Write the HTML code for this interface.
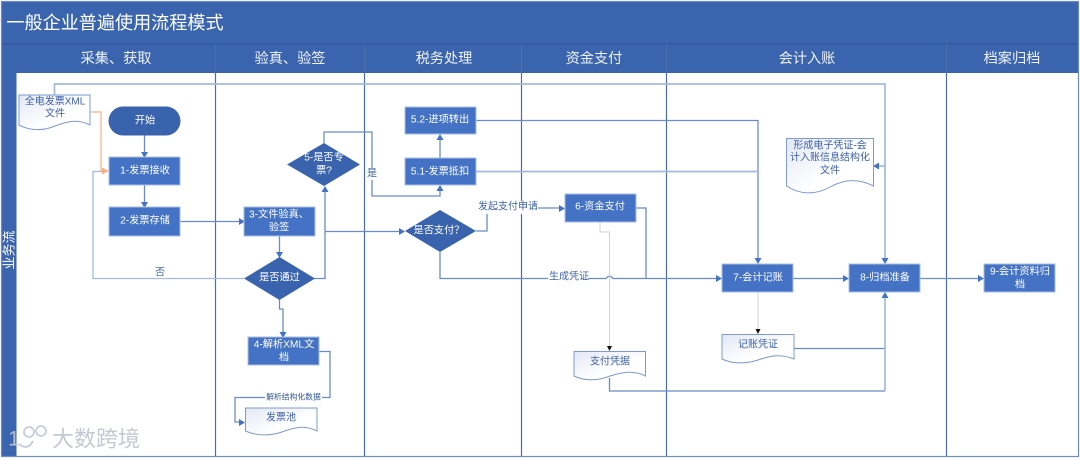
<!DOCTYPE html>
<html><head><meta charset="utf-8">
<style>
html,body{margin:0;padding:0;background:#fff}
svg{display:block;filter:blur(.25px)}
text{font-family:"Liberation Sans","Noto Sans CJK SC",sans-serif;text-anchor:middle;dominant-baseline:central}
.w{fill:#fff;font-size:10.2px}
.b{fill:#3f62a8;font-size:10px}
.h{fill:#fff;font-size:14.2px;fill-opacity:.92}
.box{fill:#4472c4;stroke:#a9bde2;stroke-width:1}
.dia{fill:#3a63ad}
.c{fill:none;stroke:#6a8bc8;stroke-width:1.3}
.l{fill:none;stroke:#a4b9de;stroke-width:1.7}
.g{fill:none;stroke:#d2d2d2;stroke-width:1}
.o{fill:none;stroke:#f4b183;stroke-width:1.2}
.a{fill:#4472c4}
.doc{fill:url(#gr);stroke:#7d9bd0;stroke-width:1}
.lane{stroke:#4a6dae;stroke-width:1.2}
</style></head>
<body>
<svg width="1080" height="459" viewBox="0 0 1080 459" xmlns="http://www.w3.org/2000/svg">
<defs><linearGradient id="gr" x1="0" y1="0" x2="1" y2="1"><stop offset="0" stop-color="#e3e8f5"/><stop offset=".6" stop-color="#fff"/></linearGradient></defs>
<rect width="1080" height="459" fill="#fff"/>
<rect x="1.5" y="1.5" width="1077" height="42.5" fill="#3a64ae"/>
<rect x="1.5" y="44" width="1077" height="29" fill="#3a64ae"/>
<rect x="1.5" y="73" width="15" height="383" fill="#3a64ae"/>
<line x1="2" y1="44" x2="1078" y2="44" stroke="#2f5597" stroke-width="1"/>
<rect x="1.5" y="1.5" width="1077" height="455" fill="none" stroke="#6d8cc4" stroke-width="1.2"/>
<g class="lane">
<line x1="215.5" y1="44" x2="215.5" y2="456"/><line x1="364.5" y1="44" x2="364.5" y2="456"/><line x1="521.5" y1="44" x2="521.5" y2="456"/><line x1="666.5" y1="44" x2="666.5" y2="456"/><line x1="946.5" y1="44" x2="946.5" y2="456"/>
</g>
<text x="115" y="23" style="font-size:18.1px" fill="#fff">一般企业普遍使用流程模式</text>
<text class="h" x="116" y="59">采集、获取</text>
<text class="h" x="290" y="59">验真、验签</text>
<text class="h" x="444" y="59">税务处理</text>
<text class="h" x="594" y="59">资金支付</text>
<text class="h" x="807" y="59">会计入账</text>
<text class="h" x="1012" y="59">档案归档</text>
<text class="w" transform="translate(9,250) rotate(-90)" style="font-size:13px">业务流</text>

<!-- connectors -->
<path class="l" d="M54.5 95V84H885V259"/>
<path class="l" d="M885 166H878"/>
<path class="o" d="M91 112H101V171H104"/>
<path class="l" d="M244 278.500H93V171.500H104" style="stroke-width:1.3"/>
<path class="c" d="M144.500 135V152M144.500 185V202M180 221.500H239M279.500 236V252M476 120.500H758V259M885 391H609.500V378M794 348.500H885M793 278.500H844M920 278.500H979M476 231H487V208H560M635 208H646V278"/>
<path class="l" d="M476 171.500H758M885 297V391" />
<path class="c" d="M314 278.500H325V191M325 231.500H400M324 143V132H372V196H440V190M440 158V139"/>
<path class="c" d="M440 252V278.500H606M606 278.500Q609.500 274 613 278.500H717"/>
<path class="c" d="M279.500 299V309H283V332M319 351.500H330V397.500H235V422H240"/>
<path class="g" d="M600 222V232H609.500V346M758 292V329"/>
<!-- arrows -->
<g class="a">
<path d="M141 152h7l-3.500 6zM141 202h7l-3.500 6zM239 218l6 3.500-6 3.500zM276 252h7l-3.500 6zM279.500 332h7l-3.500 6z" />
<path d="M321.500 192l3.500-6 3.500 6zM436.500 191l3.500-6 3.500 6zM436.500 140l3.500-6 3.500 6z"/>
<path d="M399 228l6 3.500-6 3.500zM559 205l6 3.500-6 3.500zM716 275l6 3.500-6 3.500zM843 275l6 3.500-6 3.500zM978 275l6 3.500-6 3.500zM239 419l6 3.500-6 3.500z"/>
<path d="M754.500 258h7l-3.500 6zM881.500 258h7l-3.500 6zM881.500 298l3.500-6 3.500 6zM879 162.500v7l-6-3.500z"/>
</g>
<path d="M102 167.500l7 3.500-7 3.500z" fill="#f4b183"/>
<path d="M607 346h5l-2.500 5zM755.500 329h5l-2.500 5z" fill="#111"/>

<!-- nodes -->
<rect x="108.500" y="106.500" width="72" height="29" rx="14.500" class="dia"/>
<text class="w" x="145" y="121">开始</text>
<rect class="box" x="109" y="157" width="71" height="28"/><text class="w" x="145" y="171">1-发票接收</text>
<rect class="box" x="109" y="207" width="71" height="29"/><text class="w" x="145" y="221">2-发票存储</text>
<rect class="box" x="244" y="207" width="71" height="29"/><text class="w" x="279" y="215">3-文件验真、</text><text class="w" x="279" y="228">验签</text>
<path class="dia" d="M279.500 257L315 278.500L279.500 300L244 278.500Z"/><text class="w" x="279.500" y="278">是否通过</text>
<rect class="box" x="248" y="337" width="71" height="28"/><text class="w" x="284" y="345">4-解析XML文</text><text class="w" x="284" y="358">档</text>
<path class="dia" d="M324 143L360 164.500L324 186L287 164.500Z"/><text class="w" x="324" y="158">5-是否专</text><text class="w" x="324" y="171">票?</text>
<rect class="box" x="405" y="107" width="71" height="27"/><text class="w" x="440" y="120">5.2-进项转出</text>
<rect class="box" x="405" y="158" width="71" height="27"/><text class="w" x="440" y="172">5.1-发票抵扣</text>
<path class="dia" d="M440 210L476 231L440 252L405 231Z"/><text class="w" x="439" y="231">是否支付？</text>
<rect class="box" x="565" y="194" width="71" height="28"/><text class="w" x="600" y="207">6-资金支付</text>
<rect class="box" x="722" y="264" width="71" height="28"/><text class="w" x="758" y="278">7-会计记账</text>
<rect class="box" x="849" y="264" width="71" height="28"/><text class="w" x="885" y="278">8-归档准备</text>
<rect class="box" x="984" y="264" width="71" height="28"/><text class="w" x="1020" y="272">9-会计资料归</text><text class="w" x="1020" y="285">档</text>

<!-- documents -->
<path class="doc" d="M19 95H90V125C78 119 68 121 55 126C43 131 30 131 19 125Z"/>
<text class="b" x="55" y="102">全电发票XML</text><text class="b" x="55" y="114">文件</text>
<path class="doc" d="M245.500 408H317V431C305 425 295 427 282 432C270 436 256 436 245.500 431Z"/>
<text class="b" x="281" y="418">发票池</text>
<path class="doc" d="M574 351.500H645.500V376C633 370 623 372 610 376C598 381 584 381 574 376Z"/>
<text class="b" x="610" y="362">支付凭据</text>
<path class="doc" d="M722 334.500H794V359C782 354 772 355 758 360C746 364 732 364 722 359Z"/>
<text class="b" x="758" y="345">记账凭证</text>
<path class="doc" d="M786.500 138.500H873.500V186C860 179 846 178 830 187C816 195 800 195 786.500 186Z"/>
<text class="b" x="830" y="146">形成电子凭证-会</text><text class="b" x="830" y="158">计入账信息结构化</text><text class="b" x="830" y="171">文件</text>

<!-- labels -->
<rect x="154" y="268" width="12" height="10" fill="#fff"/><text class="b" x="160" y="273">否</text>
<rect x="366" y="168" width="12" height="12" fill="#fff"/><text class="b" x="372" y="174">是</text>
<rect x="478" y="201" width="60" height="13" fill="#fff"/><text class="b" x="508" y="207">发起支付申请</text>
<rect x="548" y="272" width="40" height="12" fill="#fff"/><text class="b" x="569" y="277">生成凭证</text>
<rect x="265" y="393" width="57" height="9" fill="#fff"/><text x="293.500" y="397" fill="#2f5597" style="font-size:7.800px">解析结构化数据</text>

<!-- watermark -->
<g opacity=".9">
<text x="14" y="439" style="font-size:21px" fill="#c4c8d4">1</text>
<circle cx="29" cy="432" r="5" fill="none" stroke="#c4c8d4" stroke-width="1.800"/>
<circle cx="41" cy="431" r="5" fill="none" stroke="#c4c8d4" stroke-width="1.800"/>
<path d="M19 444Q28 451 33 441" fill="none" stroke="#c4c8d4" stroke-width="2"/>
<text x="96" y="439" style="font-size:22px" fill="#bfc3cf">大数跨境</text>
</g>
</svg>
</body></html>
